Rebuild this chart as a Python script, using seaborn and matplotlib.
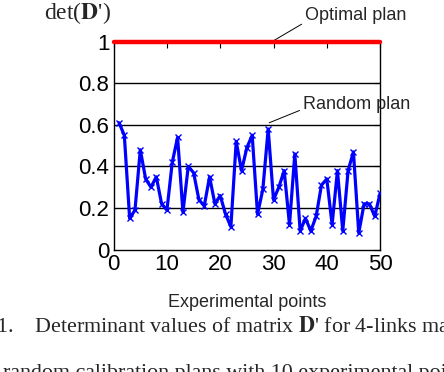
import numpy as np
import pandas as pd
import matplotlib
matplotlib.use("Agg")
import matplotlib.pyplot as plt
import seaborn as sns

# data
points = list(range(1, 51))
random_plan = [0.61, 0.55, 0.15, 0.19, 0.48, 0.34, 0.30, 0.35, 0.22, 0.19,
               0.42, 0.54, 0.18, 0.40, 0.37, 0.24, 0.21, 0.35, 0.22, 0.26,
               0.17, 0.11, 0.52, 0.38, 0.49, 0.55, 0.17, 0.29, 0.58, 0.24,
               0.30, 0.38, 0.12, 0.46, 0.09, 0.15, 0.09, 0.16, 0.31, 0.34,
               0.12, 0.38, 0.09, 0.38, 0.47, 0.08, 0.22, 0.22, 0.16, 0.27]
optimal_plan = 1.0
x_ticks = [0, 10, 20, 30, 40, 50]
y_ticks = [0, 0.2, 0.4, 0.6, 0.8, 1]
y_ticklabels = ['0', '0.2', '0.4', '0.6', '0.8', '1']

df = pd.DataFrame({'point': points, 'det': random_plan})

sns.set_style("white")
plt.rcParams['font.family'] = ['Liberation Sans', 'DejaVu Sans']
plt.rcParams['mathtext.fontset'] = 'stix'

fig = plt.figure(figsize=(4.44, 3.72), dpi=100)
ax = fig.add_axes([0.256, 0.329, 0.6, 0.559])

for y in y_ticks[1:-1]:
    ax.axhline(y, color='black', lw=1.0, zorder=1)

sns.lineplot(data=df, x='point', y='det', ax=ax, color='#0000ff', lw=2.3,
             marker='x', markersize=5, markeredgewidth=1.0,
             markeredgecolor='#0000ff', zorder=3)
ax.axhline(optimal_plan, color='#ff0000', lw=3.2, zorder=4, clip_on=False)

ax.set_xlim(0, 50)
ax.set_ylim(0, 1)
ax.set_xticks(x_ticks)
ax.set_yticks(y_ticks)
ax.set_yticklabels(y_ticklabels)
ax.tick_params(direction='in', top=True, right=True, length=4, width=0.8,
               labelsize=16, pad=3, colors='black')
for s in ax.spines.values():
    s.set_color('black')
    s.set_linewidth(1.0)

ax.set_xlabel('Experimental points', fontsize=13, labelpad=14)
ax.set_ylabel('')

ax.annotate('Optimal plan', xy=(29.7, 1.0), xytext=(35.9, 1.126),
            fontsize=13, va='center', ha='left', annotation_clip=False,
            arrowprops=dict(arrowstyle='-', color='black', lw=0.7,
                            relpos=(0, 0.1), shrinkA=0, shrinkB=0))
ax.annotate('Random plan', xy=(29.2, 0.61), xytext=(35.5, 0.70),
            fontsize=13, va='center', ha='left', annotation_clip=False,
            arrowprops=dict(arrowstyle='-', color='black', lw=0.7,
                            relpos=(0, 0.2), shrinkA=0, shrinkB=0))

serif = ['Liberation Serif', 'DejaVu Serif']
fig.text(77 / 444, 1 - 19 / 372, r"det($\mathbf{D}$')",
         fontsize=17, family=serif, ha='center', va='baseline')

fig.text(-4 / 444, 1 - 332 / 372,
         r"1.    Determinant values of matrix $\mathbf{D}$' for 4-links manipulator",
         fontsize=15.8, family=serif, ha='left', va='baseline')
fig.text(3 / 444, 1 - 378 / 372,
         'random calibration plans with 10 experimental points',
         fontsize=15.8, family=serif, ha='left', va='baseline')

fig.savefig('out.png', dpi=100)
